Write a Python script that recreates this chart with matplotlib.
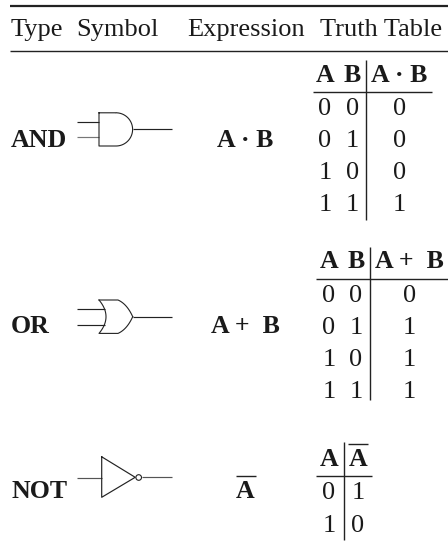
import numpy as np
import matplotlib
matplotlib.use("Agg")
import matplotlib.pyplot as plt
from matplotlib.patches import Circle

W, H = 448, 542
plt.rcParams['font.family'] = ['Liberation Serif', 'DejaVu Sans']
INK = '#1a1a1a'

headers = ["Type", "Symbol", "Expression", "Truth Table"]
types = ["AND", "OR", "NOT"]
exprs = ["A · B", "A +  B", "A"]
and_rows = [("0", "0", "0"), ("0", "1", "0"), ("1", "0", "0"), ("1", "1", "1")]
or_rows = [("0", "0", "0"), ("0", "1", "1"), ("1", "0", "1"), ("1", "1", "1")]
not_rows = [("0", "1"), ("1", "0")]

fig = plt.figure(figsize=(W / 100, H / 100), dpi=100)
ax = fig.add_axes([0, 0, 1, 1])
ax.set_xlim(0, W)
ax.set_ylim(H, 0)
ax.axis('off')

FS = 19.0
BFS = 18.6

def T(x, y, s, bold=False, ha='center', fs=None):
    ax.text(x, y, s, ha=ha, va='baseline', color=INK, fontsize=fs or (BFS if bold else FS),
            fontweight='bold' if bold else 'normal')

def L(xs, ys, lw=0.85, c='#222222'):
    ax.plot(xs, ys, color=c, lw=lw, solid_capstyle='butt', solid_joinstyle='miter')

def bez(p0, p1, p2, n=30):
    s = np.linspace(0, 1, n)
    p0, p1, p2 = map(np.array, (p0, p1, p2))
    return np.outer((1 - s) ** 2, p0) + np.outer(2 * s * (1 - s), p1) + np.outer(s ** 2, p2)

# rules
L([10, 448], [5.5, 5.5], lw=1.6)
L([10, 448], [51, 51], lw=1.0)

# header
hx = [11, 76, 187, 320]
for x, s in zip(hx, headers):
    T(x, 36, s, ha='left')

# row labels
T(11, 147, types[0], bold=True, ha='left')
T(11, 333, types[1], bold=True, ha='left')
T(11, 498, types[2], bold=True, ha='left')

# expressions
T(245, 147, exprs[0], bold=True)
T(245.5, 333, exprs[1], bold=True)
T(245.5, 498, exprs[2], bold=True)
L([236, 255.5], [476, 476], lw=1.0)

# AND gate
L([76.5, 99], [121.7, 121.7]); L([76.5, 99], [137.3, 137.3], c='#777777')
t = np.linspace(-np.pi / 2, np.pi / 2, 60)
ax.plot(np.r_[99, 116, 116 + 16.6 * np.cos(t), 99, 99],
        np.r_[112.8, 112.8, 129.4 + 16.6 * np.sin(t), 146, 112.8], color='#222222', lw=0.8)
L([132.5, 172], [129.4, 129.4])

# OR gate
L([76.5, 105], [308.5, 308.5]); L([76.5, 105], [325.2, 325.2])
back = bez((99, 300), (113, 316.7), (99, 333.4))
up = bez((118, 300), (127, 304), (132.7, 316.7))
low = bez((118, 333.4), (127, 329.4), (132.7, 316.7))
ax.plot(np.r_[back[:, 0], low[:, 0]], np.r_[back[:, 1], low[:, 1]], color='#222222', lw=0.8)
ax.plot(np.r_[99, up[:, 0]], np.r_[300, up[:, 1]], color='#222222', lw=0.8)
L([132.7, 172], [316.7, 316.7])

# NOT gate
L([76.5, 101.7], [477.8, 477.8], c='#555555')
ax.plot([101.7, 101.7, 135.2, 101.7], [456.8, 497.3, 477.3, 456.8], color='#222222', lw=0.85)
ax.add_patch(Circle((138.7, 477.5), 2.8, fc='white', ec='#222222', lw=0.8, zorder=3))
L([141.7, 172], [477, 477], c='#555555')

def truth(x_cols, x_bar, y_bar, y_rule, x_rule, head_y, ys, heads, rows):
    L([x_bar, x_bar], y_bar, lw=1.0)
    L(x_rule, [y_rule, y_rule], lw=1.0)
    for x, h in zip(x_cols, heads):
        T(x, head_y, h, bold=True)
    for y, r in zip(ys, rows):
        for x, v in zip(x_cols, r):
            T(x, y, v)

truth([325, 352.5, 399.5], 366, (60, 220), 92, (313, 432), 82,
      [115, 147, 179, 211], ["A", "B", "A · B"], and_rows)
truth([329, 356, 409.5], 369.5, (247, 400), 279, (316, 448), 268,
      [302, 334, 366, 398], ["A", "B", "A +  B"], or_rows)
truth([329, 358], 343.7, (442, 540), 475.7, (316, 371.7), 466,
      [499, 532], ["A", "A"], not_rows)
L([348, 367.7], [443.5, 443.5], lw=1.0)

fig.savefig('out.png', dpi=100, facecolor='white')
